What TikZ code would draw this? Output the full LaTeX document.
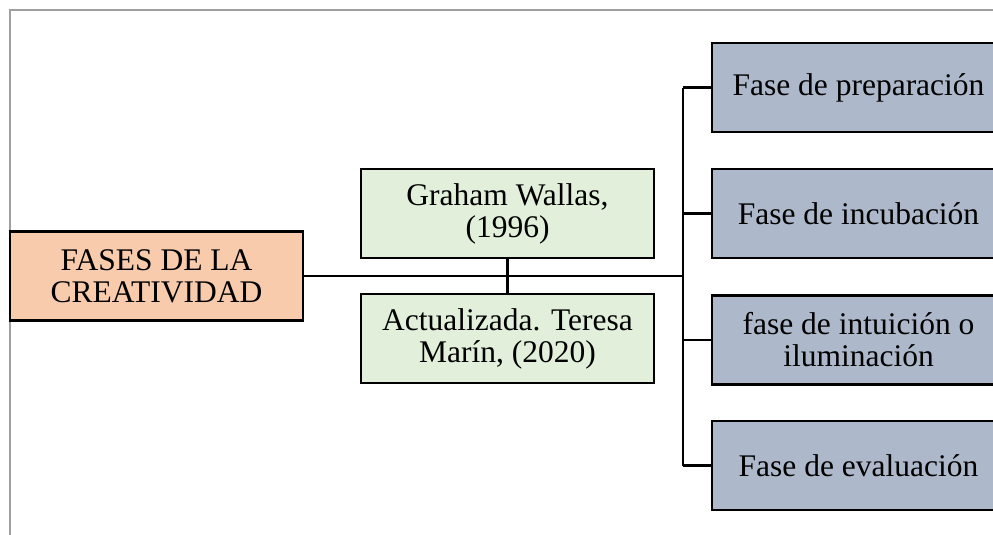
\documentclass[tikz,border=0pt]{standalone}
\usepackage{fontspec}
\setmainfont{Liberation Serif}
\definecolor{peach}{HTML}{F8CBAD}
\definecolor{lgreen}{HTML}{E2EFDA}
\definecolor{gblue}{HTML}{ADB9CA}
\definecolor{framegray}{HTML}{A0A0A0}
\begin{document}
\begin{tikzpicture}[x=1pt,y=-1pt,
  box/.style={draw=black, line width=2.3pt, rectangle, inner sep=0pt, align=center,
    minimum width=293pt, minimum height=89pt,
    font=\fontsize{31.5}{32}\selectfont},
  rootbox/.style={box, fill=peach},
  refbox/.style={box, fill=lgreen},
  phasebox/.style={box, fill=gblue},
  conn/.style={draw=black, line width=2.1pt}]
\clip (0,0) rectangle (993,535);
\fill[white] (0,0) rectangle (993,535);
\draw[framegray, line width=2pt] (10,545) -- (10,10) -- (1000,10);
\node[rootbox] (root) at (156.5,276) {FASES DE LA\\CREATIVIDAD};
\node[refbox] (g1) at (507.5,213.5) {Graham Wallas,\\(1996)};
\node[refbox] (g2) at (507.5,338.5) {Actualizada. Teresa\\Marín, (2020)};
\node[phasebox] (p1) at (858.5,87.5) {Fase de preparación};
\node[phasebox] (p2) at (858.5,213.5) {Fase de incubación};
\node[phasebox] (p3) at (858.5,340) {fase de intuición o\\iluminación};
\node[phasebox] (p4) at (858.5,465.5) {Fase de evaluación};
\coordinate (J) at (683,276);
\draw[conn] (root.east) -- (J);
\draw[conn] (g1.south) -- (g2.north);
\draw[conn] (J |- p1.west) -- (J |- p4.west);
\draw[conn] (J |- p1.west) -- (p1.west);
\draw[conn] (J |- p2.west) -- (p2.west);
\draw[conn] (J |- p3.west) -- (p3.west);
\draw[conn] (J |- p4.west) -- (p4.west);
\end{tikzpicture}
\end{document}
